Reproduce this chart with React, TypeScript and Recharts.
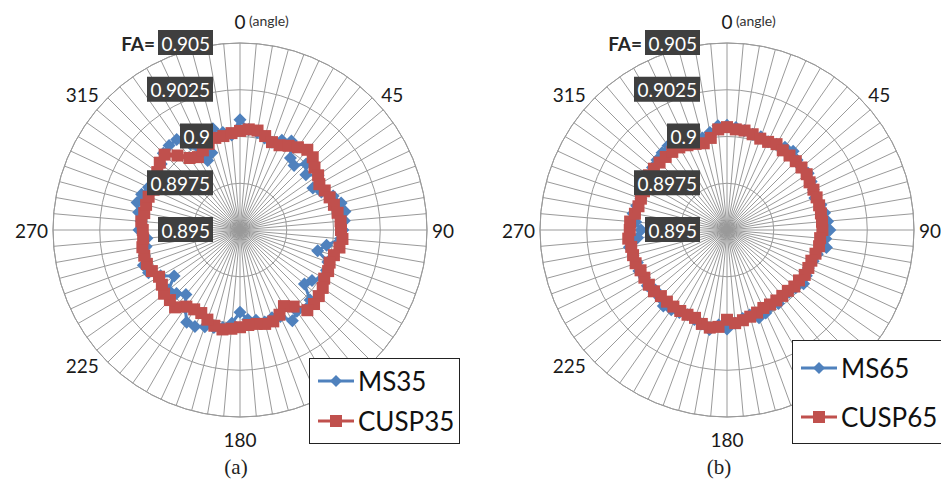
import React from "react";
import {
  RadarChart,
  PolarGrid,
  PolarAngleAxis,
  PolarRadiusAxis,
  Radar,
  Legend,
} from "recharts";

// angle categories (degrees, clockwise from top)
const ANGLES = [
  0, 5, 10, 15, 20, 25, 30, 35, 40, 45, 50, 55, 60, 65, 70, 75, 80, 85,
  90, 95, 100, 105, 110, 115, 120, 125, 130, 135, 140, 145, 150, 155, 160, 165, 170, 175,
  180, 185, 190, 195, 200, 205, 210, 215, 220, 225, 230, 235, 240, 245, 250, 255, 260, 265,
  270, 275, 280, 285, 290, 295, 300, 305, 310, 315, 320, 325, 330, 335, 340, 345, 350, 355,
];

// 135 sits under the legend box in the original, so it is not labelled
const ANGLE_LABELS = [0, 45, 90, 180, 225, 270, 315];
const FA_TICKS = [0.895, 0.8975, 0.9, 0.9025, 0.905];

const MS35 = [
  0.9009, 0.9004, 0.9003, 0.9001, 0.9, 0.9003, 0.9005, 0.8997, 0.8995, 0.9, 0.8996, 0.9001,
  0.8995, 0.8998, 0.9003, 0.9006, 0.9007, 0.9006, 0.9005, 0.9004, 0.8997, 0.8993, 0.9, 0.9001,
  0.9001, 0.8997, 0.8995, 0.9003, 0.9005, 0.9003, 0.9006, 0.9001, 0.9, 0.9001, 0.8999, 0.8998,
  0.8994, 0.9, 0.9003, 0.9004, 0.9005, 0.9007, 0.9007, 0.9001, 0.8995, 0.8998, 0.9, 0.8993,
  0.8999, 0.9004, 0.9005, 0.9003, 0.9001, 0.9, 0.9004, 0.9003, 0.9005, 0.9007, 0.9006, 0.9004,
  0.9001, 0.9003, 0.9005, 0.9008, 0.9009, 0.9009, 0.9003, 0.8991, 0.8994, 0.9006, 0.9003, 0.9001,
];

const CUSP35 = [
  0.9003, 0.9004, 0.9004, 0.9002, 0.9, 0.9, 0.9002, 0.9004, 0.9006, 0.9005, 0.9002, 0.9001,
  0.8999, 0.9, 0.9001, 0.9002, 0.9003, 0.9004, 0.9004, 0.9005, 0.9004, 0.9002, 0.9001, 0.9002,
  0.9002, 0.9004, 0.9005, 0.9006, 0.9006, 0.9, 0.8997, 0.9, 0.9002, 0.9002, 0.9001, 0.9001,
  0.9002, 0.9003, 0.9004, 0.9003, 0.9001, 0.8999, 0.8999, 0.9, 0.9004, 0.9003, 0.9003, 0.9001,
  0.9, 0.9002, 0.9003, 0.9003, 0.9003, 0.9002, 0.9002, 0.9003, 0.9002, 0.9002, 0.9002, 0.9001,
  0.9002, 0.9004, 0.9006, 0.9007, 0.9002, 0.8997, 0.8995, 0.8997, 0.8999, 0.9001, 0.9001, 0.9002,
];

const MS65 = [
  0.9006, 0.9005, 0.9004, 0.9003, 0.9003, 0.9002, 0.9003, 0.9004, 0.9005, 0.9003, 0.9002, 0.9003,
  0.9002, 0.9001, 0.9, 0.9002, 0.9003, 0.9004, 0.9005, 0.9003, 0.9004, 0.9, 0.8999, 0.8998,
  0.8999, 0.9, 0.8998, 0.8997, 0.8996, 0.8998, 0.8997, 0.8999, 0.9, 0.8997, 0.8998, 0.9,
  0.9003, 0.9001, 0.9004, 0.9002, 0.9001, 0.9, 0.9001, 0.9002, 0.9003, 0.9001, 0.9, 0.9002,
  0.9001, 0.9002, 0.9001, 0.9002, 0.9003, 0.8998, 0.8996, 0.8999, 0.9001, 0.9, 0.8999, 0.9,
  0.9001, 0.9, 0.9002, 0.9003, 0.9004, 0.9005, 0.9002, 0.9001, 0.9, 0.9001, 0.9003, 0.9006,
];

const CUSP65 = [
  0.9005, 0.9004, 0.9004, 0.9003, 0.9002, 0.9002, 0.9003, 0.9002, 0.9002, 0.9002, 0.9002, 0.9002,
  0.9001, 0.9001, 0.9001, 0.9001, 0.9001, 0.9001, 0.9001, 0.9, 0.9, 0.8999, 0.8998, 0.8998,
  0.8998, 0.8997, 0.8997, 0.8996, 0.8996, 0.8996, 0.8996, 0.8996, 0.8997, 0.8998, 0.8999, 0.9,
  0.8998, 0.9002, 0.9003, 0.9002, 0.9, 0.9, 0.9, 0.9, 0.9, 0.9, 0.9001, 0.9001,
  0.9001, 0.9001, 0.9002, 0.9002, 0.9002, 0.9003, 0.9002, 0.9002, 0.9, 0.8999, 0.8999, 0.8999,
  0.9, 0.9001, 0.9001, 0.9001, 0.9001, 0.9001, 0.9001, 0.9, 0.8999, 0.8998, 0.9, 0.9004,
];

const BLUE = "#4F81BD";
const RED = "#C0504D";
const GRID = "#9a9a9a";
const FONT = "Lato, 'Open Sans', sans-serif";

const CY = 230;
const R = 187;
const DOMAIN: [number, number] = [FA_TICKS[0], FA_TICKS[FA_TICKS.length - 1]];

const fmt = (v: number) => String(Number(v.toFixed(4)));

function diamondDot(props: any) {
  const { cx, cy, index } = props;
  if (cx == null || cy == null) return <g key={`md${index}`} />;
  const s = 6.5;
  return (
    <path
      key={`md${index}`}
      d={`M${cx},${cy - s}L${cx + s},${cy}L${cx},${cy + s}L${cx - s},${cy}Z`}
      fill={BLUE}
    />
  );
}

function squareDot(props: any) {
  const { cx, cy, index } = props;
  if (cx == null || cy == null) return <g key={`sq${index}`} />;
  return <rect key={`sq${index}`} x={cx - 6} y={cy - 6} width={12} height={12} fill={RED} />;
}

function RadiusTick(props: any) {
  const { x, y, payload } = props;
  const label = fmt(payload.value);
  const right = x - 27;
  const w = label.length * 11;
  const isTop = Math.abs(payload.value - DOMAIN[1]) < 1e-9;
  return (
    <g>
      <rect x={right - w} y={y - 13} width={w} height={25} fill="#3f3f3f" />
      <text
        x={right - 3}
        y={y}
        textAnchor="end"
        dominantBaseline="central"
        fill="#fff"
        fontSize={19}
        fontFamily={FONT}
      >
        {label}
      </text>
      {isTop && (
        <text
          x={right - w - 3}
          y={y}
          textAnchor="end"
          dominantBaseline="central"
          fill="#262626"
          fontSize={19}
          fontWeight="bold"
          fontFamily={FONT}
        >
          FA=
        </text>
      )}
    </g>
  );
}

function makeAngleTick(cx: number) {
  return (props: any) => {
    const a = Number(props.payload.value);
    if (!ANGLE_LABELS.includes(a)) return <g />;
    const rad = (a * Math.PI) / 180;
    const s = Math.sin(rad);
    const c = Math.cos(rad);
    const halfW = String(a).length * 5.5;
    const diagonal = a % 90 !== 0;
    const rx = diagonal ? 200 + halfW * 1.4 : 192 + halfW;
    const ry = diagonal ? 192 : 209;
    const x = cx + rx * s;
    const y = CY - ry * c;
    return (
      <g>
        <text
          x={x}
          y={y}
          textAnchor="middle"
          dominantBaseline="central"
          fill="#1a1a1a"
          fontSize={19}
          fontFamily={FONT}
        >
          {a}
        </text>
        {a === 0 && (
          <text
            x={x + 9}
            y={y - 1}
            textAnchor="start"
            dominantBaseline="central"
            fill="#333"
            fontSize={14}
            fontFamily={FONT}
          >
            (angle)
          </text>
        )}
      </g>
    );
  };
}

function LegendBox({ payload }: any) {
  const items = [...(payload || [])].sort(
    (a: any, b: any) => (a.color === RED ? 1 : 0) - (b.color === RED ? 1 : 0)
  );
  return (
    <div
      style={{
        width: "100%",
        height: "100%",
        boxSizing: "border-box",
        border: "1.5px solid #222",
        background: "#fff",
        display: "flex",
        flexDirection: "column",
        justifyContent: "space-around",
        padding: "2px 0",
      }}
    >
      {items.map((entry: any) => {
        const isRed = entry.color === RED;
        return (
          <div key={entry.value} style={{ display: "flex", alignItems: "center" }}>
            <svg width={46} height={16} style={{ marginLeft: 6 }}>
              <line x1={2} y1={8} x2={38} y2={8} stroke={entry.color} strokeWidth={3} />
              {isRed ? (
                <rect x={14} y={2} width={12} height={12} fill={RED} />
              ) : (
                <path d="M20,2L26,8L20,14L14,8Z" fill={BLUE} />
              )}
            </svg>
            <span
              style={{
                fontFamily: FONT,
                fontSize: 26,
                color: "#111",
                lineHeight: "28px",
                marginLeft: -4,
              }}
            >
              {entry.value}
            </span>
          </div>
        );
      })}
    </div>
  );
}

type PanelProps = {
  left: number;
  width: number;
  cx: number;
  ms: number[];
  cusp: number[];
  msName: string;
  cuspName: string;
  legendBox: { left: number; top: number; width: number; height: number };
};

function Panel({ left, width, cx, ms, cusp, msName, cuspName, legendBox }: PanelProps) {
  const data = ANGLES.map((a, i) => ({ angle: a, [msName]: ms[i], [cuspName]: cusp[i] }));
  const chartProps = {
    width,
    height: 486,
    data,
    cx,
    cy: CY,
    outerRadius: R,
    margin: { top: 0, right: 0, bottom: 0, left: 0 },
  };
  return (
    <div style={{ position: "absolute", left, top: 0, width, height: 486 }}>
      <RadarChart {...chartProps}>
        <PolarGrid gridType="circle" stroke={GRID} strokeWidth={1} />
        <PolarAngleAxis
          dataKey="angle"
          axisLineType="circle"
          axisLine={{ stroke: GRID }}
          tickLine={false}
          tick={makeAngleTick(cx)}
        />
        <PolarRadiusAxis
          type="number"
          angle={90}
          domain={DOMAIN}
          ticks={FA_TICKS as any}
          tickCount={FA_TICKS.length}
          allowDecimals
          allowDataOverflow
          axisLine={false}
          tick={false}
        />
        <Radar
          name={msName}
          dataKey={msName}
          stroke={BLUE}
          strokeWidth={3}
          fill="none"
          fillOpacity={0}
          dot={diamondDot}
          isAnimationActive={false}
        />
        <Radar
          name={cuspName}
          dataKey={cuspName}
          stroke={RED}
          strokeWidth={5}
          fill="none"
          fillOpacity={0}
          dot={squareDot}
          isAnimationActive={false}
        />
        <Legend
          content={(p: any) => <LegendBox payload={p.payload} />}
          wrapperStyle={{
            position: "absolute",
            left: legendBox.left,
            top: legendBox.top,
            width: legendBox.width,
            height: legendBox.height,
            bottom: "auto",
          }}
        />
      </RadarChart>
      {/* FA value boxes sit above the series, as in the original */}
      <div style={{ position: "absolute", left: 0, top: 0, pointerEvents: "none" }}>
        <RadarChart {...chartProps}>
          <PolarAngleAxis dataKey="angle" axisLine={false} tickLine={false} tick={false} />
          <PolarRadiusAxis
            type="number"
            angle={90}
            domain={DOMAIN}
            ticks={FA_TICKS as any}
            tickCount={FA_TICKS.length}
            allowDecimals
            allowDataOverflow
            axisLine={false}
            tick={RadiusTick}
          />
        </RadarChart>
      </div>
    </div>
  );
}

export default function App() {
  return (
    <div
      style={{
        position: "absolute",
        left: 0,
        top: 0,
        width: 941,
        height: 486,
        background: "#fff",
        overflow: "hidden",
      }}
    >
      <Panel
        left={0}
        width={470}
        cx={240}
        ms={MS35}
        cusp={CUSP35}
        msName="MS35"
        cuspName="CUSP35"
        legendBox={{ left: 309, top: 358, width: 151, height: 86 }}
      />
      <Panel
        left={470}
        width={471}
        cx={257}
        ms={MS65}
        cusp={CUSP65}
        msName="MS65"
        cuspName="CUSP65"
        legendBox={{ left: 322, top: 340, width: 150, height: 104 }}
      />
      <div
        style={{
          position: "absolute",
          left: 200,
          width: 72,
          top: 455,
          textAlign: "center",
          fontFamily: "'Liberation Serif', serif",
          fontSize: 21,
          color: "#222",
        }}
      >
        (a)
      </div>
      <div
        style={{
          position: "absolute",
          left: 683,
          width: 72,
          top: 455,
          textAlign: "center",
          fontFamily: "'Liberation Serif', serif",
          fontSize: 21,
          color: "#222",
        }}
      >
        (b)
      </div>
    </div>
  );
}
